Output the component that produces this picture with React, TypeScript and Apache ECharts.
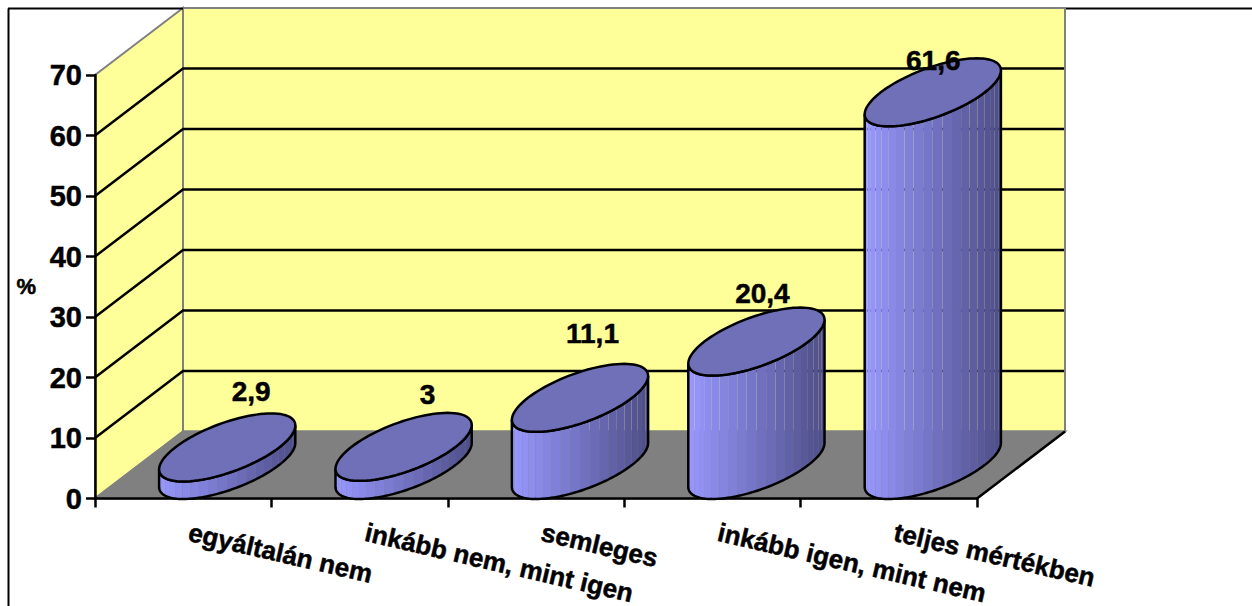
import React, { useEffect, useRef } from "react";
import * as echarts from "echarts";

const categories = ["egyáltalán nem", "inkább nem, mint igen", "semleges", "inkább igen, mint nem", "teljes mértékben"];
const values = [2.9, 3, 11.1, 20.4, 61.6];
const gridValues = [10, 20, 30, 40, 50, 60];
const yName = "%";

// layout constants (not data)
const DEPTH_X = 88;
const DEPTH_Y = 67;
const RX = 52; // front-facing half width of a cylinder
const FONT = '"Liberation Sans", Arial, sans-serif';
const labelDx = [24, 24, 12.5, 6, 0.5];
const labelDy = [-56, -52, -64, -48, -32];
const STRIPS = 22;
const LINE = 2.5;
const HEAVY = { textBorderColor: "#000", textBorderWidth: 0.5 };

const lerp = (a: number, b: number, t: number) => Math.round(a + (b - a) * t);
const sideColor = (t: number) =>
  `rgb(${lerp(152, 78, t)},${lerp(152, 78, t)},${lerp(255, 136, t)})`;

function ellipsePoint(cx: number, cy: number, th: number) {
  const b = DEPTH_X / 2;
  const c = DEPTH_Y / 2 + 0.5;
  return [cx + RX * Math.cos(th) + b * Math.sin(th), cy - c * Math.sin(th)];
}

const renderWalls = (params: any) => {
  const { x, y, width: w, height: h } = params.coordSys;
  const dx = DEPTH_X, dy = DEPTH_Y;
  const grey = "#808080";
  return {
    type: "group",
    children: [
      { type: "polygon", shape: { points: [[x, y], [x + dx, y - dy], [x + dx, y + h - dy], [x, y + h]] }, style: { fill: "#FFFF99", stroke: grey, lineWidth: 2 } },
      { type: "polygon", shape: { points: [[x + dx, y - dy], [x + w + dx, y - dy], [x + w + dx, y + h - dy], [x + dx, y + h - dy]] }, style: { fill: "#FFFF99", stroke: grey, lineWidth: 2 } },
      { type: "polygon", shape: { points: [[x, y + h], [x + dx, y + h - dy], [x + w + dx, y + h - dy], [x + w, y + h]] }, style: { fill: "#808080", stroke: grey, lineWidth: 2 } },
      { type: "line", shape: { x1: x + w, y1: y + h, x2: x + w + dx, y2: y + h - dy }, style: { stroke: "#000", lineWidth: LINE } },
    ],
  };
};

const renderGrid = (params: any, api: any) => {
  const { x, width: w } = params.coordSys;
  const py = api.coord([0, api.value(1)])[1];
  return {
    type: "polyline",
    shape: { points: [[x, py], [x + DEPTH_X, py - DEPTH_Y], [x + w + DEPTH_X - 1, py - DEPTH_Y]] },
    style: { stroke: "#000", lineWidth: LINE, fill: "none" },
  };
};

const renderCylinder = (params: any, api: any) => {
  const i = api.value(0);
  const v = api.value(1);
  const base = api.coord([i, 0]);
  const top = api.coord([i, v]);
  const cx = base[0] + DEPTH_X / 2;
  const by = base[1] - DEPTH_Y / 2;
  const ty = top[1] - DEPTH_Y / 2;
  const thR = Math.atan2(DEPTH_X / 2, RX);
  const thL = thR - Math.PI;
  const children: any[] = [];
  for (let s = 0; s < STRIPS; s++) {
    const a0 = thL + (Math.PI * s) / STRIPS;
    const a1 = thL + (Math.PI * (s + 1)) / STRIPS;
    const pts: number[][] = [];
    for (let k = 0; k <= 4; k++) pts.push(ellipsePoint(cx, ty, a0 + ((a1 - a0) * k) / 4));
    for (let k = 4; k >= 0; k--) pts.push(ellipsePoint(cx, by, a0 + ((a1 - a0) * k) / 4));
    const midX = (pts[0][0] + pts[4][0]) / 2;
    const half = Math.hypot(RX, DEPTH_X / 2);
    const t = (midX - (cx - half)) / (2 * half);
    children.push({ type: "polygon", shape: { points: pts }, style: { fill: sideColor(t), stroke: "none" } });
  }
  const outline: number[][] = [];
  for (let k = 0; k <= 72; k++) outline.push(ellipsePoint(cx, ty, thL + (Math.PI * k) / 72));
  for (let k = 72; k >= 0; k--) outline.push(ellipsePoint(cx, by, thL + (Math.PI * k) / 72));
  children.push({ type: "polygon", shape: { points: outline }, style: { fill: "none", stroke: "#000", lineWidth: LINE } });
  const rim: number[][] = [];
  for (let k = 0; k < 96; k++) rim.push(ellipsePoint(cx, ty, (2 * Math.PI * k) / 96));
  children.push({ type: "polygon", shape: { points: rim }, style: { fill: "#7070B8", stroke: "#000", lineWidth: LINE } });
  children.push({
    type: "text",
    style: {
      text: String(v).replace(".", ","),
      x: cx + labelDx[i],
      y: ty + labelDy[i],
      fill: "#000",
      stroke: "#000",
      lineWidth: 0.5,
      font: `bold 28px ${FONT}`,
      align: "center",
      verticalAlign: "middle",
    },
  });
  return { type: "group", children };
};

export default function App() {
  const ref = useRef<HTMLDivElement>(null);
  useEffect(() => {
    const chart = echarts.init(ref.current!, undefined, { renderer: "svg" });
    chart.setOption({
      animation: false,
      backgroundColor: "#fff",
      grid: { left: 95, top: 75, width: 882, height: 423.5, outerBoundsMode: "none" },
      xAxis: {
        type: "category",
        data: categories,
        z: 1,
        axisLine: { show: true, lineStyle: { color: "#000", width: LINE } },
        axisTick: { show: true, length: 9, alignWithLabel: false, lineStyle: { color: "#000", width: LINE } },
        axisLabel: {
          interval: 0,
          rotate: -13,
          margin: 32,
          padding: [0, 0, 0, 6],
          color: "#000",
          fontFamily: "Liberation Sans",
          fontWeight: "bold",
          fontSize: 26,
          ...HEAVY,
        },
      },
      yAxis: {
        type: "value",
        min: 0,
        max: 70,
        interval: 10,
        z: 1,
        name: yName,
        nameLocation: "middle",
        nameRotate: 0,
        nameGap: 59,
        nameTextStyle: { color: "#000", fontFamily: "Liberation Sans", fontWeight: "bold", fontSize: 22, ...HEAVY },
        splitLine: { show: false },
        axisLine: { show: true, lineStyle: { color: "#000", width: LINE } },
        axisTick: { show: true, length: 9, lineStyle: { color: "#000", width: LINE } },
        axisLabel: { margin: 13, color: "#000", fontFamily: "Liberation Sans", fontWeight: "bold", fontSize: 29, ...HEAVY },
      },
      graphic: [
        { type: "line", z: 10, shape: { x1: 8.5, y1: 8.5, x2: 8.5, y2: 606 }, style: { stroke: "#000", lineWidth: 2 } },
        { type: "line", z: 10, shape: { x1: 8, y1: 8.5, x2: 183, y2: 8.5 }, style: { stroke: "#000", lineWidth: 2 } },
        { type: "line", z: 10, shape: { x1: 1066, y1: 8.5, x2: 1252, y2: 8.5 }, style: { stroke: "#000", lineWidth: 2 } },
      ],
      series: [
        { type: "custom", z: 0, silent: true, data: [[0, 0]], encode: { x: 0, y: 1 }, renderItem: renderWalls },
        { type: "custom", z: 0.5, silent: true, data: gridValues.map((g) => [0, g]), encode: { x: 0, y: 1 }, renderItem: renderGrid },
        { type: "custom", z: 2, silent: true, data: values.map((v, i) => [i, v]), encode: { x: 0, y: 1 }, renderItem: renderCylinder },
      ],
    });
    return () => chart.dispose();
  }, []);
  return <div ref={ref} style={{ position: "absolute", left: 0, top: 0, width: 1252, height: 606 }} />;
}
